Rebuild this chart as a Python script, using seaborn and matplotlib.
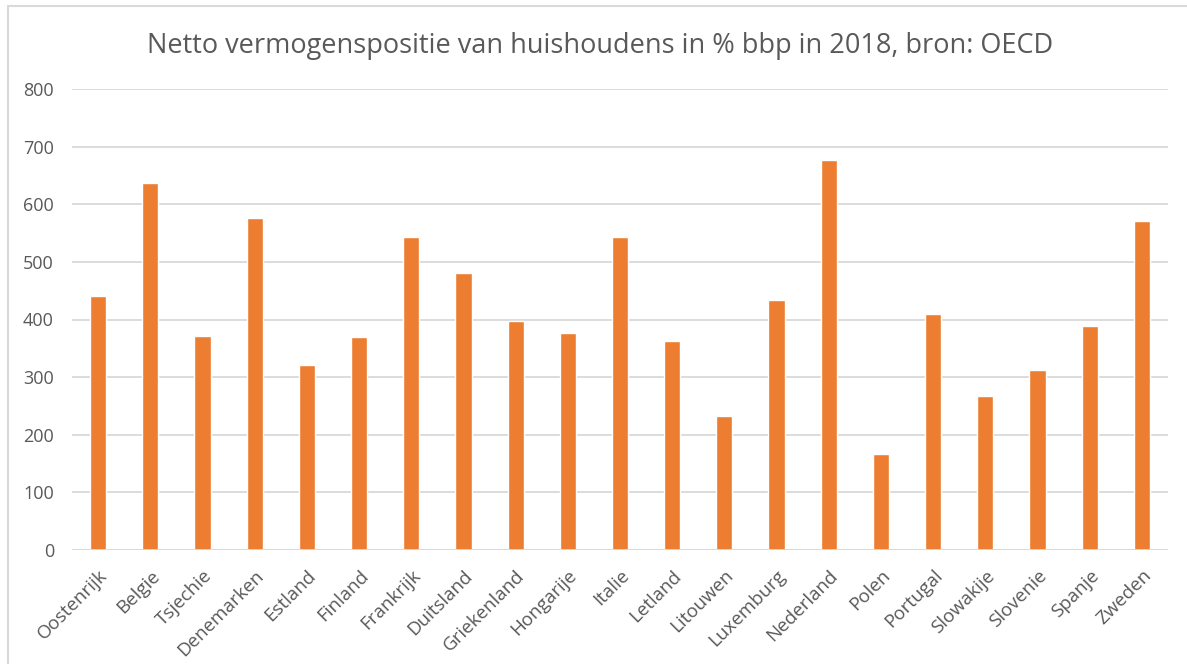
import matplotlib
matplotlib.use("Agg")
import matplotlib.pyplot as plt
import seaborn as sns
import pandas as pd
from matplotlib.patches import Rectangle

# Data
countries = ['Oostenrijk', 'Belgie', 'Tsjechie', 'Denemarken', 'Estland', 'Finland',
             'Frankrijk', 'Duitsland', 'Griekenland', 'Hongarije', 'Italie', 'Letland',
             'Litouwen', 'Luxemburg', 'Nederland', 'Polen', 'Portugal', 'Slowakije',
             'Slovenie', 'Spanje', 'Zweden']
values = [440, 637, 371, 576, 321, 369, 544, 481, 398, 377, 543, 362,
          232, 433, 676, 166, 410, 268, 313, 388, 571]
y_ticks = [0, 100, 200, 300, 400, 500, 600, 700, 800]
title = 'Netto vermogenspositie van huishoudens in % bbp in 2018, bron: OECD'

df = pd.DataFrame({'land': countries, 'waarde': values})

sns.set_theme(style='white')
plt.rcParams['font.family'] = ['Open Sans', 'DejaVu Sans']

grey_text = '#595959'
grid_col = '#d9d9d9'
bar_col = '#ED7D31'

fig = plt.figure(figsize=(11.87, 6.64), dpi=100)
ax = fig.add_axes([72 / 1187, 1 - 550 / 664, (1168 - 72) / 1187, (550 - 89) / 664])

sns.barplot(data=df, x='land', y='waarde', color=bar_col, width=0.31,
            saturation=1, ax=ax, zorder=3)

ax.set_ylim(0, 800)
ax.set_yticks(y_ticks)
ax.set_xlim(-0.5, len(countries) - 0.5)
ax.yaxis.grid(True, color=grid_col, linewidth=1.3, zorder=0)
ax.xaxis.grid(False)
for s in ax.spines.values():
    s.set_visible(False)
ax.axhline(0, color=grid_col, linewidth=1.3, zorder=4)

ax.set_xlabel('')
ax.set_ylabel('')
ax.tick_params(axis='y', length=0, pad=13, labelsize=13, labelcolor=grey_text)
ax.tick_params(axis='x', length=0, pad=12, labelsize=13.5, labelcolor=grey_text)
plt.setp(ax.get_xticklabels(), rotation=45, ha='right', rotation_mode='anchor')

fig.text(600 / 1187, 1 - 46 / 664, title, ha='center', va='center',
         fontsize=19.5, color=grey_text)

# light chart-area border (top and left visible in the reference)
fig.patches.append(Rectangle((8 / 1187, -0.1), 1.2, 1 - 6 / 664 + 0.1,
                             transform=fig.transFigure, fill=False,
                             edgecolor=grid_col, linewidth=1.5, zorder=0))

fig.savefig('out.png', dpi=100)
